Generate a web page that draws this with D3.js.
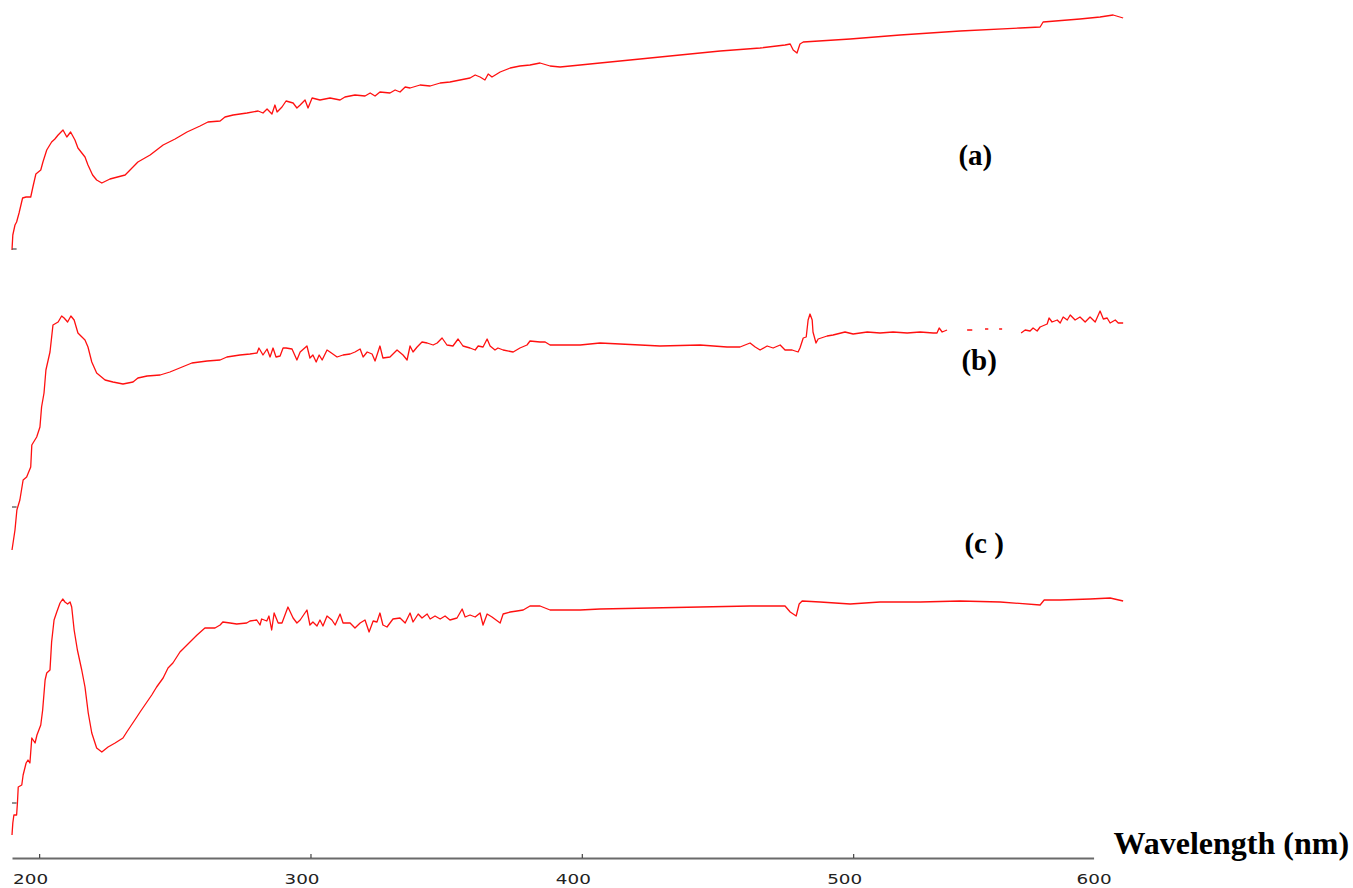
<!DOCTYPE html>
<html>
<head>
<meta charset="utf-8">
<script src="https://cdn.jsdelivr.net/npm/d3@7"></script>
<style>
  body { margin: 0; background: #fff; }
  .tick-label { font-family: "DejaVu Sans", Verdana, sans-serif; font-size: 14px; fill: #222; }
  .panel-label { font-family: "Liberation Serif", "Times New Roman", serif; font-weight: bold; font-size: 29px; fill: #000; }
  .axis-title { font-family: "Liberation Serif", "Times New Roman", serif; font-weight: bold; font-size: 32px; fill: #000; }
</style>
</head>
<body>
<div class="graphic"></div>
<script>
// wavelength (nm), absorbance (a.u.)
var seriesA = [
  [190.0,0.00],[190.3,0.15],[191.1,0.25],[191.7,0.28],[192.6,0.37],[193.9,0.52],[195.2,0.53],[196.9,0.53],
  [197.7,0.63],[198.8,0.76],[200.6,0.80],[201.4,0.88],[202.8,1.00],[204.6,1.08],[205.8,1.11],[207.0,1.15],
  [208.8,1.20],[210.2,1.13],[211.6,1.18],[213.2,1.10],[214.3,1.02],[216.9,0.93],[218.0,0.85],[219.7,0.75],
  [221.2,0.70],[223.1,0.67],[226.1,0.71],[231.7,0.75],[236.4,0.88],[240.9,0.95],[245.7,1.05],[250.1,1.11],
  [254.5,1.18],[259.3,1.24],[262.2,1.28],[266.7,1.29],[268.5,1.33],[271.5,1.35],[276.6,1.37],[280.7,1.39],
  [282.5,1.37],[284.0,1.41],[285.8,1.36],[286.9,1.45],[287.7,1.38],[289.5,1.43],[291.0,1.49],[293.6,1.47],
  [295.0,1.42],[296.2,1.45],[298.0,1.50],[299.1,1.42],[300.6,1.52],[303.5,1.50],[307.2,1.52],[310.9,1.50],
  [312.7,1.53],[316.4,1.55],[320.1,1.54],[322.0,1.57],[323.8,1.54],[325.6,1.58],[329.3,1.57],[331.2,1.60],
  [333.0,1.58],[334.9,1.63],[336.7,1.62],[340.4,1.65],[344.1,1.64],[347.8,1.67],[351.4,1.68],[355.1,1.70],
  [358.8,1.72],[360.7,1.75],[362.5,1.73],[364.3,1.70],[365.5,1.76],[366.9,1.73],[369.9,1.78],[373.6,1.82],
  [377.2,1.84],[380.9,1.85],[384.6,1.87],[388.3,1.84],[392.0,1.83],[399.4,1.85],[406.7,1.87],[421.5,1.91],
  [436.2,1.95],[451.0,1.99],[465.7,2.02],[474.9,2.05],[476.8,2.06],[477.9,2.00],[479.3,1.97],[480.4,2.06],
  [481.6,2.08],[498.9,2.11],[517.3,2.15],[539.4,2.19],[561.5,2.22],[568.9,2.23],[570.0,2.28],[583.6,2.31],
  [591.0,2.33],[595.8,2.35],[599.5,2.32]
];

var seriesB = [
  [190.0,0.00],[191.1,0.20],[191.8,0.40],[192.9,0.50],[194.1,0.70],[195.4,0.73],[196.9,0.83],[197.3,1.05],
  [199.1,1.13],[200.3,1.23],[200.9,1.43],[201.8,1.57],[202.5,1.80],[204.0,1.98],[205.1,2.25],[207.0,2.28],
  [208.3,2.34],[209.2,2.32],[210.5,2.28],[211.7,2.34],[212.9,2.30],[214.3,2.17],[216.9,2.10],[218.0,2.03],
  [219.4,1.88],[221.2,1.77],[224.3,1.70],[227.2,1.68],[230.9,1.66],[234.6,1.68],[236.4,1.72],[239.8,1.74],
  [244.6,1.75],[248.2,1.78],[252.7,1.83],[256.3,1.87],[261.9,1.89],[266.7,1.90],[269.2,1.93],[274.0,1.95],
  [277.7,1.96],[280.3,1.97],[281.0,2.02],[282.5,1.95],[284.0,2.01],[285.1,1.93],[286.2,2.02],[287.3,1.93],
  [288.8,1.94],[289.9,2.02],[291.0,2.02],[293.2,2.01],[295.0,1.90],[296.2,1.98],[298.7,2.04],[299.8,1.92],
  [300.9,1.95],[302.1,1.88],[303.2,1.95],[304.3,1.90],[306.1,2.00],[307.2,1.98],[309.8,1.93],[312.0,1.95],
  [314.6,1.96],[316.4,1.98],[318.3,2.01],[319.4,1.93],[320.9,1.98],[322.7,1.96],[323.8,1.89],[325.6,2.04],
  [326.7,1.92],[329.3,1.93],[331.9,2.00],[334.1,1.95],[335.6,1.90],[336.7,2.04],[337.8,1.98],[339.3,2.03],
  [341.1,2.08],[343.0,2.07],[345.2,2.05],[346.7,2.07],[348.5,2.12],[350.3,2.05],[352.5,2.04],[354.4,2.11],
  [356.2,2.04],[358.8,2.02],[360.7,2.00],[361.8,2.04],[363.6,2.03],[365.1,2.11],[366.2,2.04],[368.0,2.00],
  [369.1,2.02],[371.0,2.00],[374.7,1.98],[377.2,2.02],[379.8,2.05],[380.9,2.09],[384.6,2.08],[386.5,2.08],
  [388.3,2.05],[392.0,2.05],[399.4,2.05],[406.7,2.07],[421.5,2.05],[428.8,2.04],[443.6,2.05],[453.5,2.03],
  [458.3,2.03],[462.0,2.07],[463.9,2.03],[465.7,2.00],[468.3,2.04],[470.5,2.02],[473.1,2.05],[474.9,2.00],
  [477.5,2.00],[479.7,1.98],[480.4,2.02],[481.6,2.12],[482.7,2.13],[483.4,2.30],[484.1,2.36],[484.9,2.30],
  [485.2,2.18],[486.3,2.07],[487.1,2.11],[490.4,2.14],[492.6,2.15],[497.0,2.18],[500.0,2.16],[505.2,2.18],
  [509.9,2.17],[514.7,2.18],[519.9,2.17],[524.7,2.18],[529.5,2.17],[530.9,2.17],[531.7,2.22],[532.8,2.18],
  [534.6,2.20],[538.0,null],[542.0,2.20],[543.9,2.20],[546.0,null],[548.6,2.21],[549.8,2.21],[552.0,null],
  [553.8,2.21],[554.9,2.21],[558.0,null],[561.9,2.17],[563.4,2.20],[565.2,2.19],[566.3,2.22],[567.8,2.19],
  [568.9,2.23],[571.5,2.26],[572.2,2.32],[573.3,2.28],[575.2,2.30],[576.3,2.27],[577.4,2.33],[578.9,2.30],
  [580.0,2.35],[581.8,2.30],[583.6,2.33],[585.5,2.28],[587.3,2.33],[589.2,2.28],[591.0,2.39],[592.2,2.31],
  [593.6,2.32],[594.7,2.27],[596.6,2.30],[597.7,2.27],[599.5,2.27]
];

var seriesC = [
  [190.0,0.00],[190.3,0.12],[190.7,0.20],[191.7,0.20],[192.0,0.32],[192.3,0.48],[193.6,0.50],[194.1,0.60],
  [195.2,0.72],[195.9,0.75],[196.6,0.72],[197.3,0.97],[198.5,0.92],[199.2,1.00],[200.6,1.10],[201.3,1.25],
  [202.2,1.55],[202.8,1.62],[204.0,1.65],[204.6,1.93],[205.5,2.15],[206.5,2.23],[207.7,2.32],[208.7,2.36],
  [209.5,2.33],[210.5,2.31],[211.4,2.33],[212.0,2.28],[212.9,2.05],[214.1,1.85],[215.7,1.65],[216.9,1.48],
  [218.1,1.22],[219.4,1.02],[221.2,0.87],[223.1,0.83],[225.4,0.88],[228.0,0.92],[230.9,0.97],[232.3,1.03],
  [236.0,1.18],[237.2,1.23],[241.5,1.40],[243.3,1.48],[245.7,1.57],[247.5,1.67],[249.3,1.72],[251.9,1.83],
  [255.6,1.93],[258.2,2.00],[261.1,2.07],[264.8,2.07],[266.7,2.10],[267.7,2.13],[270.4,2.12],[272.8,2.11],
  [276.5,2.12],[277.7,2.14],[280.2,2.15],[281.4,2.10],[282.0,2.16],[283.9,2.14],[284.7,2.19],[285.7,2.05],
  [286.6,2.22],[288.1,2.12],[289.5,2.12],[291.7,2.28],[293.6,2.17],[295.0,2.12],[296.2,2.15],[298.7,2.25],
  [299.8,2.10],[300.9,2.13],[302.4,2.09],[303.5,2.15],[304.6,2.09],[306.1,2.19],[307.9,2.15],[309.1,2.10],
  [310.9,2.21],[312.0,2.12],[314.6,2.12],[316.4,2.07],[318.3,2.12],[320.1,2.15],[321.6,2.03],[323.1,2.14],
  [324.5,2.13],[325.6,2.22],[326.7,2.10],[328.2,2.08],[330.4,2.16],[333.0,2.17],[334.9,2.12],[336.7,2.22],
  [337.8,2.13],[339.7,2.21],[341.1,2.17],[343.0,2.21],[344.1,2.16],[345.9,2.19],[347.8,2.16],[349.6,2.19],
  [351.4,2.15],[354.0,2.17],[355.9,2.26],[357.0,2.18],[358.8,2.20],[360.7,2.18],[362.5,2.22],[363.6,2.10],
  [365.1,2.21],[366.9,2.18],[369.9,2.12],[371.0,2.21],[373.6,2.23],[376.1,2.24],[378.4,2.25],[380.9,2.29],
  [384.6,2.29],[388.3,2.25],[399.4,2.25],[406.7,2.26],[425.2,2.27],[443.6,2.28],[462.0,2.29],[474.9,2.29],
  [476.8,2.23],[479.0,2.19],[480.1,2.31],[481.2,2.34],[487.8,2.33],[498.9,2.31],[509.9,2.33],[524.7,2.33],
  [539.4,2.34],[554.2,2.33],[568.9,2.30],[570.4,2.35],[576.3,2.35],[587.3,2.36],[594.7,2.37],[599.5,2.34]
];

var panelNames = ["(a)", "(b)", "(c )"];
var xTickValues = [200, 300, 400, 500];
var lastTickLabel = "600";
var axisTitle = "Wavelength (nm)";

var render = function() {
  var containerElement = document.querySelector(".graphic");
  containerElement.innerHTML = "";

  var width = 1353, height = 888;
  var svg = d3.select(containerElement).append("svg")
    .attr("width", width)
    .attr("height", height);

  // x: 190-600 nm over the plot, the drawn axis stops a bit short
  var x = d3.scaleLinear().domain([190, 600]).range([12, 1124.5]);
  var axisEnd = 588.6;
  var y = d3.scaleLinear().domain([0, 8.5]).range([858, 8]);

  // vertical offset of each stacked trace
  var stackOffset = [6.08, 3.08, 0.23];
  var allSeries = [seriesA, seriesB, seriesC];

  var line = d3.line()
    .defined(function(d) { return d[1] != null; })
    .x(function(d) { return x(d[0]); });

  allSeries.forEach(function(s, i) {
    line.y(function(d) { return y(d[1] + stackOffset[i]); });
    svg.append("path")
      .datum(s)
      .attr("fill", "none")
      .attr("stroke", "#ff1010")
      .attr("stroke-width", 1.3)
      .attr("stroke-linejoin", "round")
      .attr("d", line);
  });

  // small grey marks on the left edge
  var markLevels = [stackOffset[0] + 0.01, stackOffset[1] + 0.43, stackOffset[2] + 0.32];
  svg.append("g").selectAll("line")
    .data(markLevels)
    .enter()
    .append("line")
    .attr("x1", x(190)).attr("x2", x(191.7))
    .attr("y1", function(d) { return y(d); })
    .attr("y2", function(d) { return y(d); })
    .attr("stroke", "#555")
    .attr("stroke-width", 1.3);

  // x axis
  var xAxisScale = x.copy().domain([190, axisEnd]).range([x(190), x(axisEnd)]);
  var axisG = svg.append("g")
    .attr("transform", "translate(0," + y(0) + ")")
    .call(d3.axisBottom(xAxisScale).tickValues(xTickValues).tickSizeInner(-4).tickSizeOuter(0).tickFormat(""));
  axisG.select(".domain").attr("stroke", "#6a6a6a").attr("stroke-width", 2);
  axisG.selectAll(".tick line").attr("stroke", "#444").attr("stroke-width", 1.2);

  var labelData = xTickValues.map(function(v) { return { text: String(v), pos: x(v) - 9 }; });
  labelData.push({ text: lastTickLabel, pos: x(axisEnd) });
  svg.append("g").selectAll("text")
    .data(labelData)
    .enter()
    .append("text")
    .attr("class", "tick-label")
    .attr("x", function(d) { return d.pos - 17; })
    .attr("y", y(0) + 26)
    .attr("textLength", 35)
    .attr("lengthAdjust", "spacingAndGlyphs")
    .text(function(d) { return d.text; });

  svg.append("text")
    .attr("class", "axis-title")
    .attr("x", x(600) - 11)
    .attr("y", y(0) - 4)
    .text(axisTitle);

  // panel letters
  var labelLevels = [stackOffset[0] + 0.85, stackOffset[1] + 1.80, stackOffset[2] + 2.82];
  svg.append("g").selectAll("text")
    .data(panelNames)
    .enter()
    .append("text")
    .attr("class", "panel-label")
    .attr("x", function(d, i) { return x(538.8) + i * 3; })
    .attr("y", function(d, i) { return y(labelLevels[i]); })
    .text(function(d) { return d; });
};

render();
</script>
</body>
</html>
